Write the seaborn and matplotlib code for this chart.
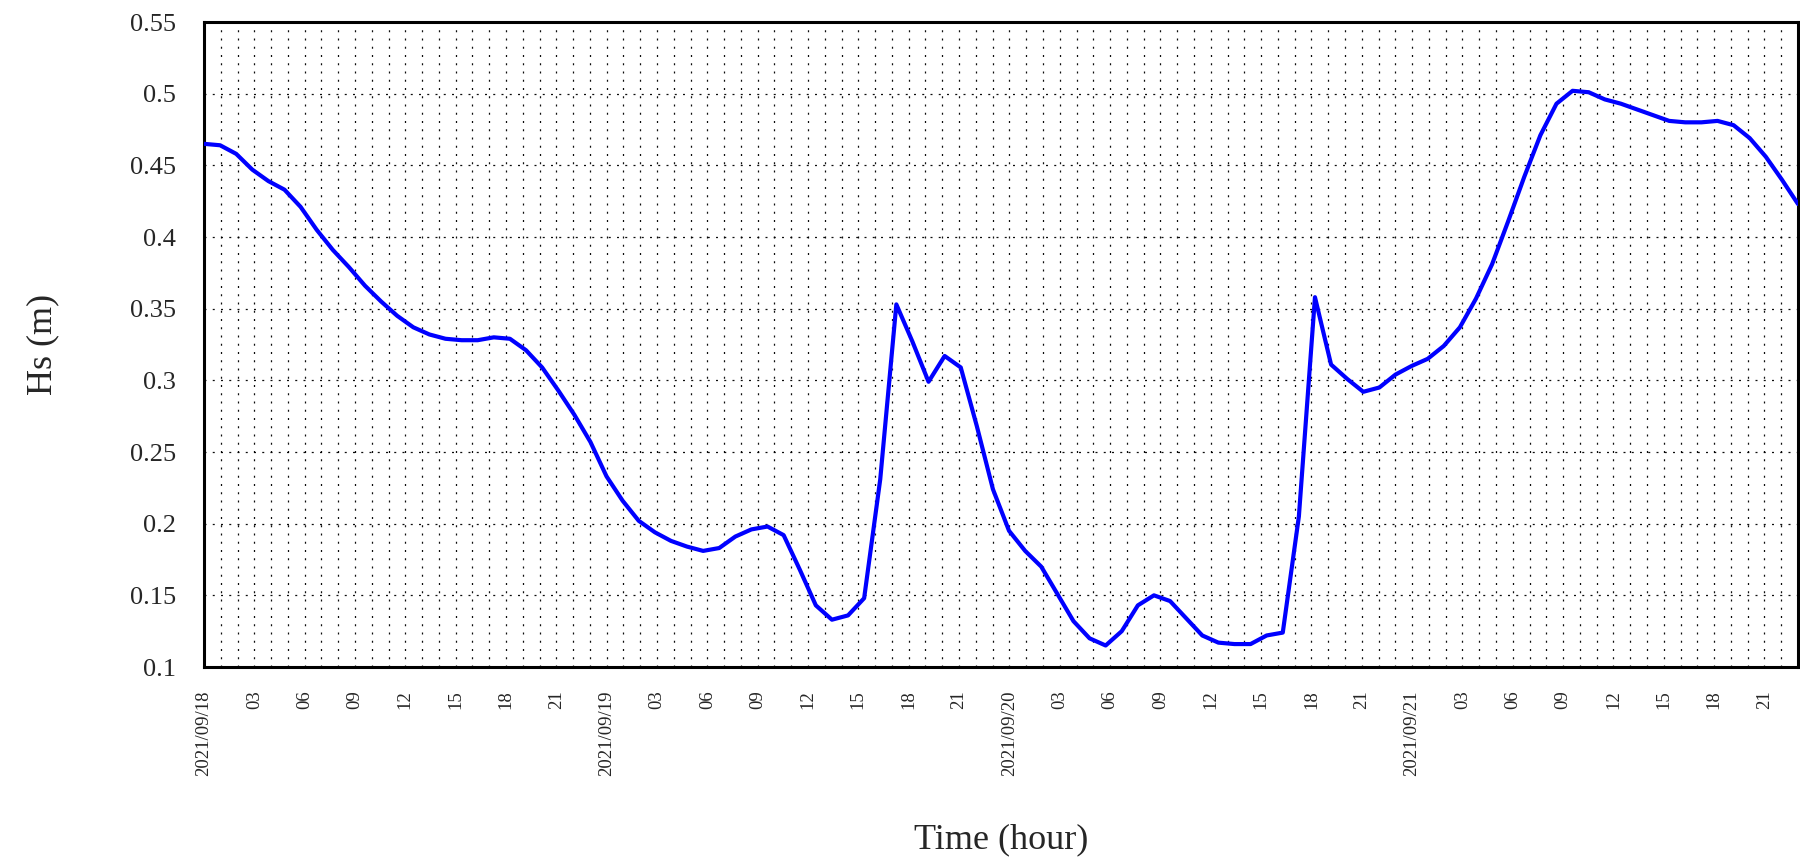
import numpy as np
import pandas as pd
import matplotlib
matplotlib.use("Agg")
import matplotlib.pyplot as plt
import seaborn as sns

# ---- data ----
time_step_hours = 95 / 99          # sampling interval of the series (hours)
hs_values = [
    0.465, 0.464, 0.458, 0.447, 0.439, 0.433, 0.421, 0.405, 0.391, 0.379,
    0.366, 0.355, 0.345, 0.337, 0.332, 0.329, 0.328, 0.328, 0.330, 0.329,
    0.321, 0.309, 0.293, 0.276, 0.257, 0.233, 0.216, 0.202, 0.194, 0.188,
    0.184, 0.181, 0.183, 0.191, 0.196, 0.198, 0.192, 0.168, 0.143, 0.133,
    0.136, 0.148, 0.231, 0.353, 0.327, 0.299, 0.317, 0.309, 0.268, 0.224,
    0.195, 0.181, 0.170, 0.151, 0.132, 0.120, 0.115, 0.125, 0.143, 0.150,
    0.146, 0.134, 0.122, 0.117, 0.116, 0.116, 0.122, 0.124, 0.205, 0.358,
    0.311, 0.301, 0.292, 0.295, 0.304, 0.310, 0.315, 0.324, 0.337, 0.357,
    0.381, 0.411, 0.442, 0.471, 0.493, 0.502, 0.501, 0.496, 0.493, 0.489,
    0.485, 0.481, 0.480, 0.480, 0.481, 0.478, 0.469, 0.456, 0.440, 0.423,
]
hours = np.arange(len(hs_values)) * time_step_hours

tick_hours = list(range(0, 96, 3))
tick_labels = [
    "2021/09/18", "03", "06", "09", "12", "15", "18", "21",
    "2021/09/19", "03", "06", "09", "12", "15", "18", "21",
    "2021/09/20", "03", "06", "09", "12", "15", "18", "21",
    "2021/09/21", "03", "06", "09", "12", "15", "18", "21",
]
y_ticks = [0.1, 0.15, 0.2, 0.25, 0.3, 0.35, 0.4, 0.45, 0.5, 0.55]
y_tick_labels = ["0.1", "0.15", "0.2", "0.25", "0.3", "0.35", "0.4", "0.45", "0.5", "0.55"]

df = pd.DataFrame({"hour": hours, "Hs": hs_values})

# ---- style ----
sns.set_theme(style="white")
plt.rcParams["font.family"] = ["Liberation Serif", "DejaVu Serif"]

fig = plt.figure(figsize=(18, 8.59), dpi=100)
ax = fig.add_axes([204 / 1800, 1 - 667 / 859, (1798 - 204) / 1800, (667 - 22) / 859])

sns.lineplot(data=df, x="hour", y="Hs", ax=ax, color="#0000ff", linewidth=3.0,
             zorder=3)

ax.set_xlim(0, 95)
ax.set_ylim(0.1, 0.55)

ax.set_xticks(tick_hours)
ax.set_xticklabels(tick_labels, rotation=90, fontsize=13.5)
ax.set_xticks(range(0, 96), minor=True)
ax.set_yticks(y_ticks)
ax.set_yticklabels(y_tick_labels, fontsize=19)

ax.tick_params(axis="both", which="both", length=0)
ax.tick_params(axis="x", which="major", pad=17)
ax.tick_params(axis="y", which="major", pad=20)

grid_kw = dict(color="black", linewidth=0.9, linestyle=(0, (1.6, 5.0)), alpha=0.95)
ax.grid(True, which="major", axis="both", **grid_kw)
ax.grid(True, which="minor", axis="x", **grid_kw)
ax.set_axisbelow(True)

for sp in ax.spines.values():
    sp.set_visible(True)
    sp.set_color("black")
    sp.set_linewidth(2.2)

ax.set_xlabel("Time (hour)", fontsize=26)
ax.set_ylabel("Hs (m)", fontsize=26)
ax.xaxis.set_label_coords(0.5, -0.243)
ax.yaxis.set_label_coords(-0.091, 0.5)

fig.savefig("out.png", dpi=100)
